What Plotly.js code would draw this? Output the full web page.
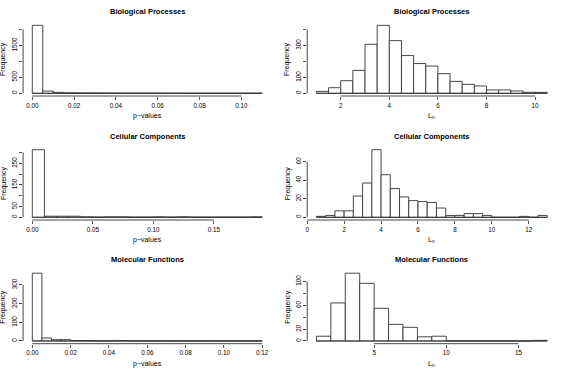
<!DOCTYPE html>
<html>
<head>
<meta charset="utf-8">
<script src="https://cdn.plot.ly/plotly-3.0.1.min.js"></script>
<style>
body { margin: 0; background: #fff; }
#plot { width: 569px; height: 372px; }
</style>
</head>
<body>
<div id="plot"></div>
<script>
// titles and axis labels
const rowTitles = ['Biological Processes', 'Cellular Components', 'Molecular Functions'];
const pLabel = 'p\u2212values';
const lLabel = 'L<sub>n</sub>';

// histogram counts, one value per bin
const bpPStart = 0, bpPWidth = 0.005;
const bpPCounts = [2125, 70, 30, 15, 12, 10, 8, 6, 5, 5, 4, 4, 3, 3, 3, 2, 2, 2, 2, 2, 1, 2];
const bpLStart = 1, bpLWidth = 0.5;
const bpLCounts = [12, 35, 79, 144, 308, 427, 331, 237, 187, 171, 123, 75, 56, 46, 21, 21, 15, 6, 6];

const ccPStart = 0, ccPWidth = 0.01;
const ccPCounts = [313, 5, 5, 5, 2, 1, 2, 2, 1, 1, 2, 1, 2, 1, 1, 1, 1, 1, 2];
const ccLStart = 0.5, ccLWidth = 0.5;
const ccLCounts = [1, 2, 7, 7, 23, 37, 73, 46, 31, 22, 18, 17, 16, 10, 2, 2, 4, 4, 2, 0, 0, 0, 1, 0, 2];

const mfPStart = 0, mfPWidth = 0.005;
const mfPCounts = [363, 16, 7, 7, 2, 2, 1, 1, 1, 2, 1, 1, 0, 1, 0, 1, 0, 0, 1, 0, 0, 0, 0, 1];
const mfLStart = 1, mfLWidth = 1;
const mfLCounts = [8, 64, 114, 97, 55, 28, 23, 7, 8, 0, 0, 0, 0, 0, 0, 1];

// x ticks
const bpPXTicks = [0, 0.02, 0.04, 0.06, 0.08, 0.10];
const bpPXText = ['0.00', '0.02', '0.04', '0.06', '0.08', '0.10'];
const bpLXTicks = [2, 4, 6, 8, 10];
const ccPXTicks = [0, 0.05, 0.10, 0.15];
const ccPXText = ['0.00', '0.05', '0.10', '0.15'];
const ccLXTicks = [0, 2, 4, 6, 8, 10, 12];
const mfPXTicks = [0, 0.02, 0.04, 0.06, 0.08, 0.10, 0.12];
const mfPXText = ['0.00', '0.02', '0.04', '0.06', '0.08', '0.10', '0.12'];
const mfLXTicks = [5, 10, 15];

// y ticks: all tick marks, and the ones R kept a label for
const bpPYTicks = [0, 500, 1000, 1500, 2000];
const bpPYLabels = [0, 500, 1500];
const bpLYTicks = [0, 100, 200, 300, 400];
const bpLYLabels = [0, 100, 300];
const ccPYTicks = [0, 50, 100, 150, 200, 250, 300];
const ccPYLabels = [0, 50, 150, 250];
const ccLYTicks = [0, 20, 40, 60];
const ccLYLabels = [0, 20, 40, 60];
const mfPYTicks = [0, 100, 200, 300];
const mfPYLabels = [0, 100, 200, 300];
const mfLYTicks = [0, 20, 40, 60, 80, 100];
const mfLYLabels = [0, 20, 60, 100];

const W = 569, H = 372;
const colDom = [[0.0406, 0.4770], [0.5399, 0.9780]];
const rowDom = [[0.7419, 0.9392], [0.4086, 0.6048], [0.0761, 0.2728]];
const lineCol = '#333';
const font = 'Liberation Sans, Arial, sans-serif';

const panels = [
    {row: 0, col: 0, start: bpPStart, width: bpPWidth, counts: bpPCounts, xt: bpPXTicks, xs: bpPXText, yt: bpPYTicks, yl: bpPYLabels, xl: pLabel},
    {row: 0, col: 1, start: bpLStart, width: bpLWidth, counts: bpLCounts, xt: bpLXTicks, xs: bpLXTicks.map(String), yt: bpLYTicks, yl: bpLYLabels, xl: lLabel},
    {row: 1, col: 0, start: ccPStart, width: ccPWidth, counts: ccPCounts, xt: ccPXTicks, xs: ccPXText, yt: ccPYTicks, yl: ccPYLabels, xl: pLabel},
    {row: 1, col: 1, start: ccLStart, width: ccLWidth, counts: ccLCounts, xt: ccLXTicks, xs: ccLXTicks.map(String), yt: ccLYTicks, yl: ccLYLabels, xl: lLabel},
    {row: 2, col: 0, start: mfPStart, width: mfPWidth, counts: mfPCounts, xt: mfPXTicks, xs: mfPXText, yt: mfPYTicks, yl: mfPYLabels, xl: pLabel},
    {row: 2, col: 1, start: mfLStart, width: mfLWidth, counts: mfLCounts, xt: mfLXTicks, xs: mfLXTicks.map(String), yt: mfLYTicks, yl: mfLYLabels, xl: lLabel}
];

const data = [];
const layout = {
    width: W, height: H,
    margin: {l: 0, r: 0, t: 0, b: 0},
    paper_bgcolor: '#fff', plot_bgcolor: '#fff',
    showlegend: false,
    font: {family: font, size: 6, color: '#000'},
    annotations: [],
    shapes: []
};

panels.forEach(function(p, i) {
    const n = i + 1;
    const xa = n === 1 ? 'x' : 'x' + n;
    const ya = n === 1 ? 'y' : 'y' + n;
    const xd = colDom[p.col], yd = rowDom[p.row];

    const centers = p.counts.map((c, j) => p.start + p.width * (j + 0.5));
    const xlo = p.start, xhi = p.start + p.width * p.counts.length;
    const ymax = Math.max(...p.counts);
    const xpad = (xhi - xlo) * 0.04, ypad = ymax * 0.04;

    data.push({
        type: 'bar', x: centers, y: p.counts, width: p.width,
        xaxis: xa, yaxis: ya,
        marker: {color: '#fff', line: {color: lineCol, width: 0.9}},
        hoverinfo: 'x+y'
    });

    layout['xaxis' + (n === 1 ? '' : n)] = {
        domain: xd, anchor: ya, range: [xlo - xpad, xhi + xpad],
        showgrid: false, zeroline: false, showline: false,
        tickmode: 'array', tickvals: p.xt, ticktext: p.xs,
        ticks: 'outside', ticklen: 3, tickwidth: 0.8, tickcolor: lineCol,
        tickfont: {size: 6.3}, fixedrange: true
    };
    layout['yaxis' + (n === 1 ? '' : n)] = {
        domain: yd, anchor: xa, range: [-ypad, ymax + ypad],
        showgrid: false, zeroline: false, showline: false,
        tickmode: 'array', tickvals: p.yl, ticktext: p.yl.map(String), tickangle: -90,
        ticks: 'outside', ticklen: 3, tickwidth: 0.8, tickcolor: lineCol,
        minor: {tickmode: 'array', tickvals: p.yt, ticks: 'outside', ticklen: 3, tickwidth: 0.8, tickcolor: lineCol, showgrid: false},
        tickfont: {size: 6.3}, fixedrange: true
    };

    // R style axis lines, first tick to last tick
    layout.shapes.push({type: 'line', xref: xa, yref: 'paper',
        x0: p.xt[0], x1: p.xt[p.xt.length - 1], y0: yd[0], y1: yd[0],
        line: {color: lineCol, width: 0.9}});
    layout.shapes.push({type: 'line', xref: 'paper', yref: ya,
        x0: xd[0], x1: xd[0], y0: p.yt[0], y1: p.yt[p.yt.length - 1],
        line: {color: lineCol, width: 0.9}});
    // bottom edges of all bins (empty bins included)
    layout.shapes.push({type: 'line', xref: xa, yref: ya,
        x0: xlo, x1: xhi, y0: 0, y1: 0,
        line: {color: lineCol, width: 0.9}});

    const xmid = (xd[0] + xd[1]) / 2;
    layout.annotations.push({text: '<b>' + rowTitles[p.row] + '</b>', xref: 'paper', yref: 'paper',
        x: xmid, y: yd[1] + 11 / H, xanchor: 'center', yanchor: 'middle',
        showarrow: false, font: {size: 7.5}});
    layout.annotations.push({text: p.xl, xref: 'paper', yref: 'paper',
        x: xmid, y: yd[0] - 20 / H, xanchor: 'center', yanchor: 'middle',
        showarrow: false, font: {size: 7}});
    layout.annotations.push({text: 'Frequency', xref: 'paper', yref: 'paper', textangle: -90,
        x: xd[0] - 19.5 / W, y: (yd[0] + yd[1]) / 2, xanchor: 'center', yanchor: 'middle',
        showarrow: false, font: {size: 7}});
});

Plotly.newPlot('plot', data, layout, {displayModeBar: false, staticPlot: true});
</script>
</body>
</html>
